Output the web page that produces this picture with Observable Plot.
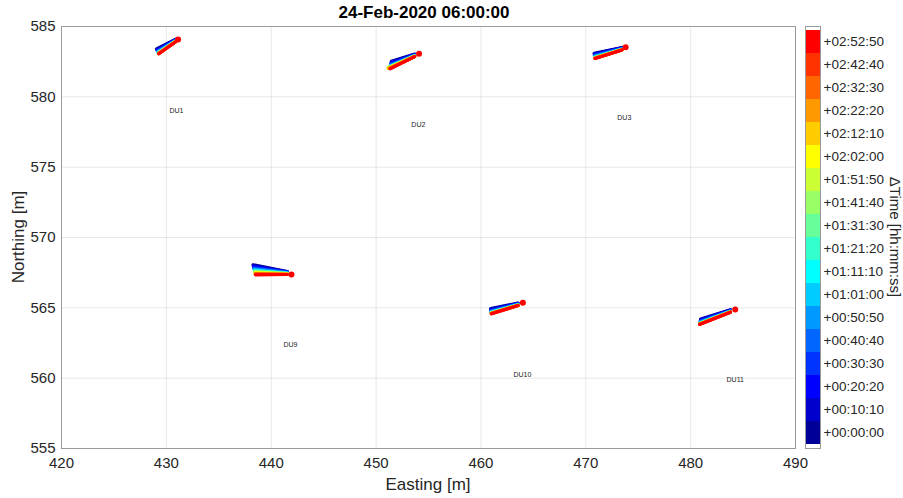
<!DOCTYPE html>
<html>
<head>
<meta charset="utf-8">
<script src="https://cdn.jsdelivr.net/npm/d3@7"></script>
<script src="https://cdn.jsdelivr.net/npm/@observablehq/plot@0.6"></script>
<style>
  html, body { margin: 0; padding: 0; background: #fff; }
  #wrap { position: relative; width: 903px; height: 498px; font-family: "Liberation Sans", Arial, sans-serif; color: #262626; }
  #wrap svg { position: absolute; top: 0; }
  .lbl { position: absolute; white-space: nowrap; }
</style>
</head>
<body>
<div id="wrap"></div>
<script>
// ---- data ----
const title = "24-Feb-2020 06:00:00";
const xTicks = [420, 430, 440, 450, 460, 470, 480, 490];
const yTicks = [555, 560, 565, 570, 575, 580, 585];

const units = ["DU1", "DU2", "DU3", "DU9", "DU10", "DU11"];
// far end point (red dot) of each unit
const endX = [431.12, 454.10, 473.80, 441.93, 464.00, 484.25];
const endY = [584.08, 583.06, 583.53, 567.37, 565.36, 564.89];
// x where the trail of points stops, just short of the red dot
const bandEndX = [430.90, 453.68, 473.45, 441.54, 463.54, 483.80];
// label positions
const labelX = [430.96, 454.03, 473.67, 441.83, 463.95, 484.25];
const labelY = [579.03, 578.03, 578.53, 562.40, 560.27, 559.91];

// per time step (18 steps, 610 s apart): start x/y and end y of each trail
const du1X  = [429.06, 429.09, 429.12, 429.15, 429.17, 429.19, 429.21, 429.22, 429.23, 429.24, 429.25, 429.25, 429.26, 429.26, 429.27, 429.27, 429.28, 429.28];
const du1Y  = [583.41, 583.36, 583.31, 583.27, 583.23, 583.20, 583.17, 583.15, 583.13, 583.12, 583.11, 583.10, 583.09, 583.09, 583.08, 583.07, 583.07, 583.06];
const du1Y2 = [584.10, 584.07, 584.05, 584.03, 584.01, 583.99, 583.98, 583.97, 583.96, 583.95, 583.95, 583.94, 583.94, 583.93, 583.93, 583.93, 583.92, 583.92];
const du2X  = [451.46, 451.44, 451.42, 451.40, 451.38, 451.35, 451.32, 451.28, 451.24, 451.20, 451.17, 451.15, 451.14, 451.20, 451.25, 451.30, 451.33, 451.36];
const du2Y  = [582.53, 582.46, 582.38, 582.32, 582.27, 582.21, 582.17, 582.14, 582.11, 582.09, 582.07, 582.06, 582.05, 582.04, 582.03, 582.02, 582.01, 582.00];
const du2Y2 = [583.04, 583.01, 582.99, 582.97, 582.95, 582.93, 582.92, 582.91, 582.90, 582.89, 582.89, 582.88, 582.88, 582.87, 582.87, 582.87, 582.86, 582.86];
const du3X  = [470.80, 470.81, 470.82, 470.82, 470.83, 470.84, 470.84, 470.85, 470.85, 470.85, 470.86, 470.86, 470.86, 470.87, 470.87, 470.87, 470.88, 470.88];
const du3Y  = [583.10, 583.05, 582.99, 582.95, 582.91, 582.87, 582.84, 582.82, 582.80, 582.78, 582.77, 582.77, 582.76, 582.75, 582.74, 582.74, 582.73, 582.72];
const du3Y2 = [583.51, 583.48, 583.46, 583.44, 583.42, 583.40, 583.39, 583.38, 583.37, 583.36, 583.36, 583.35, 583.35, 583.34, 583.34, 583.34, 583.33, 583.33];
const du9X  = [438.27, 438.29, 438.32, 438.34, 438.36, 438.38, 438.39, 438.40, 438.41, 438.43, 438.44, 438.44, 438.45, 438.46, 438.47, 438.48, 438.49, 438.50];
const du9Y  = [568.06, 567.99, 567.92, 567.85, 567.79, 567.73, 567.69, 567.65, 567.61, 567.58, 567.55, 567.52, 567.49, 567.46, 567.44, 567.41, 567.38, 567.35];
const du9Y2 = [567.58, 567.56, 567.54, 567.52, 567.50, 567.48, 567.47, 567.46, 567.45, 567.44, 567.43, 567.42, 567.41, 567.40, 567.39, 567.38, 567.37, 567.37];
const du10X  = [460.93, 460.94, 460.94, 460.95, 460.96, 460.96, 460.97, 460.97, 460.97, 460.98, 460.98, 460.98, 460.99, 460.99, 460.99, 460.99, 461.00, 461.00];
const du10Y  = [564.94, 564.89, 564.84, 564.80, 564.76, 564.72, 564.70, 564.67, 564.66, 564.64, 564.63, 564.62, 564.62, 564.61, 564.60, 564.59, 564.59, 564.58];
const du10Y2 = [565.34, 565.31, 565.29, 565.27, 565.25, 565.23, 565.22, 565.21, 565.20, 565.19, 565.19, 565.18, 565.18, 565.17, 565.17, 565.17, 565.16, 565.16];
const du11X  = [480.95, 480.94, 480.93, 480.92, 480.91, 480.90, 480.90, 480.89, 480.89, 480.88, 480.88, 480.87, 480.87, 480.87, 480.86, 480.86, 480.85, 480.85];
const du11Y  = [564.20, 564.15, 564.09, 564.05, 564.01, 563.97, 563.94, 563.92, 563.90, 563.88, 563.87, 563.87, 563.86, 563.85, 563.84, 563.84, 563.83, 563.82];
const du11Y2 = [564.87, 564.84, 564.82, 564.80, 564.78, 564.76, 564.75, 564.74, 564.73, 564.72, 564.72, 564.71, 564.71, 564.70, 564.70, 564.70, 564.69, 564.69];

const timeLabels = ["+00:00:00", "+00:10:10", "+00:20:20", "+00:30:30", "+00:40:40", "+00:50:50",
  "+01:01:00", "+01:11:10", "+01:21:20", "+01:31:30", "+01:41:40", "+01:51:50",
  "+02:02:00", "+02:12:10", "+02:22:20", "+02:32:30", "+02:42:40", "+02:52:50"];
const colors = ["#000099", "#0000CC", "#0000FF", "#0033FF", "#0066FF", "#0099FF",
  "#00CCFF", "#00FFFF", "#33FFCC", "#66FF99", "#99FF66", "#CCFF33",
  "#FFFF00", "#FFCC00", "#FF9900", "#FF6600", "#FF3300", "#FF0000"];
const cbLabel = "\u0394Time [hh:mm:ss]";
const xLabel = "Easting [m]";
const yLabel = "Northing [m]";

// ---- build tables ----
const trails = [[du1X, du1Y, du1Y2], [du2X, du2Y, du2Y2], [du3X, du3Y, du3Y2],
                [du9X, du9Y, du9Y2], [du10X, du10Y, du10Y2], [du11X, du11Y, du11Y2]];
const segs = [];
timeLabels.forEach((t, i) => {
  units.forEach((u, k) => {
    segs.push({unit: u, step: i, x1: trails[k][0][i], y1: trails[k][1][i], x2: bandEndX[k], y2: trails[k][2][i], color: colors[i]});
  });
});
const ends = units.map((u, k) => ({unit: u, x: endX[k], y: endY[k]}));
const labels = units.map((u, k) => ({unit: u, x: labelX[k], y: labelY[k]}));

const font = "'Liberation Sans', Arial, sans-serif";
const main = Plot.plot({
  width: 903, height: 498,
  marginLeft: 61, marginRight: 108, marginTop: 26, marginBottom: 50,
  style: {fontFamily: font, fontSize: "15px", color: "#262626", background: "transparent"},
  x: {domain: [420, 490]},
  y: {domain: [555, 585]},
  color: {type: "identity"},
  marks: [
    Plot.gridX(xTicks, {stroke: "#000", strokeOpacity: 0.09}),
    Plot.gridY(yTicks, {stroke: "#000", strokeOpacity: 0.09}),
    Plot.frame({stroke: "#9a9a9a"}),
    Plot.axisX({ticks: xTicks, tickSize: 0, tickPadding: 9, fontSize: 15, label: null, tickFormat: d => String(d)}),
    Plot.axisY({ticks: yTicks, tickSize: 0, tickPadding: 6, fontSize: 15, label: null, tickFormat: d => String(d)}),
    Plot.link(segs, {x1: "x1", y1: "y1", x2: "x2", y2: "y2", stroke: "color", strokeWidth: 3.2, strokeLinecap: "round"}),
    Plot.dot(ends, {x: "x", y: "y", r: 3, fill: "#FF0000", stroke: "none"}),
    Plot.text(labels, {x: "x", y: "y", text: "unit", fontSize: 7, fill: "#222"})
  ]
});
main.style.left = "0px";

const cb = Plot.plot({
  width: 103, height: 498,
  marginLeft: 5, marginRight: 83, marginTop: 26, marginBottom: 50,
  style: {fontFamily: font, fontSize: "13.5px", color: "#262626", background: "transparent"},
  y: {type: "band", domain: timeLabels.slice().reverse(), padding: 0},
  color: {type: "identity"},
  marks: [
    Plot.cell(timeLabels, {y: d => d, fill: (d, i) => colors[i]}),
    Plot.frame({stroke: "#9a9a9a", strokeWidth: 1}),
    Plot.axisY({anchor: "right", tickSize: 0, tickPadding: 3, fontSize: 13.5, label: null})
  ]
});
cb.style.left = "800px";

const wrap = document.getElementById("wrap");
wrap.appendChild(main);
wrap.appendChild(cb);

function addLabel(text, css) {
  const d = document.createElement("div");
  d.className = "lbl";
  d.textContent = text;
  Object.assign(d.style, css);
  wrap.appendChild(d);
  return d;
}
addLabel(title, {left: "424px", top: "13px", transform: "translate(-50%,-50%)", fontWeight: "bold", fontSize: "17px", color: "#000"});
addLabel(xLabel, {left: "428px", top: "485px", transform: "translate(-50%,-50%)", fontSize: "17px"});
addLabel(yLabel, {left: "19px", top: "237px", transform: "translate(-50%,-50%) rotate(-90deg)", fontSize: "17px"});
addLabel(cbLabel, {left: "895px", top: "237px", transform: "translate(-50%,-50%) rotate(90deg)", fontSize: "15px"});
</script>
</body>
</html>
